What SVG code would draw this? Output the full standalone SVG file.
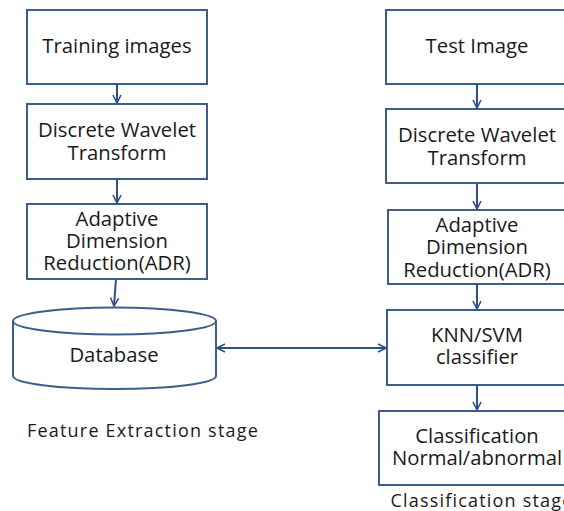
<svg xmlns="http://www.w3.org/2000/svg" width="564" height="511" viewBox="0 0 564 511">
<defs>
<marker id="ah" viewBox="0 0 10 10" refX="9" refY="5" markerWidth="10" markerHeight="10" markerUnits="userSpaceOnUse" orient="auto-start-reverse">
<path d="M1,1 L9,5 L1,9" fill="none" stroke="#2E5283" stroke-width="1.6"/>
</marker>
<style>
.box{fill:#fff;stroke:#3B5E8C;stroke-width:2}
.t{font-family:"Open Sans","Liberation Sans",sans-serif;font-size:20.3px;fill:#1a1a1a;text-anchor:middle}
.s{font-family:"Open Sans","Liberation Sans",sans-serif;font-size:18px;letter-spacing:1.2px;fill:#1a1a1a;text-anchor:middle}
.c{fill:none;stroke:#2E5283;stroke-width:2;marker-end:url(#ah)}
</style>
</defs>
<rect width="564" height="511" fill="#fff"/>
<g id="train"><rect class="box" x="27" y="10" width="180" height="74"/><text class="t" x="117" y="53">Training images</text></g>
<g id="dwt1"><rect class="box" x="27" y="104" width="180" height="75"/><text class="t" x="117" y="137">Discrete Wavelet</text><text class="t" x="117" y="160">Transform</text></g>
<g id="adr1"><rect class="box" x="27" y="204" width="180" height="75"/><text class="t" x="117" y="226">Adaptive</text><text class="t" x="117" y="248">Dimension</text><text class="t" x="117" y="270">Reduction(ADR)</text></g>
<g id="db"><path class="box" d="M13,321 L13,376 A101.5,13 0 0 0 216,376 L216,321 A101.5,13.5 0 0 0 13,321 A101.5,13.5 0 0 0 216,321"/><text class="t" x="114" y="362">Database</text></g>
<g id="test"><rect class="box" x="386" y="10" width="184" height="74"/><text class="t" x="477" y="53">Test Image</text></g>
<g id="dwt2"><rect class="box" x="386" y="109" width="184" height="74"/><text class="t" x="477" y="142">Discrete Wavelet</text><text class="t" x="477" y="165">Transform</text></g>
<g id="adr2"><rect class="box" x="388" y="210" width="182" height="74"/><text class="t" x="477" y="232">Adaptive</text><text class="t" x="477" y="254">Dimension</text><text class="t" x="477" y="277">Reduction(ADR)</text></g>
<g id="knn"><rect class="box" x="387" y="310" width="183" height="75"/><text class="t" x="477" y="342">KNN/SVM</text><text class="t" x="477" y="364">classifier</text></g>
<g id="cls"><rect class="box" x="379" y="411" width="196" height="74"/><text class="t" x="477" y="443">Classification</text><text class="t" x="477" y="465">Normal/abnormal</text></g>
<g id="labels"><text class="s" x="143" y="437">Feature Extraction stage</text><text class="s" x="482" y="507">Classification stage</text></g>
<g id="connectors">
<line class="c" x1="117" y1="84" x2="117" y2="103"/>
<line class="c" x1="117" y1="179" x2="117" y2="203"/>
<line class="c" x1="116" y1="279" x2="114" y2="306"/>
<line class="c" x1="477" y1="84" x2="477" y2="108"/>
<line class="c" x1="477" y1="183" x2="477" y2="209"/>
<line class="c" x1="477" y1="284" x2="477" y2="309"/>
<line class="c" x1="477" y1="385" x2="477" y2="410"/>
<line class="c" style="marker-start:url(#ah)" x1="217" y1="348" x2="386" y2="348"/>
</g>
</svg>
